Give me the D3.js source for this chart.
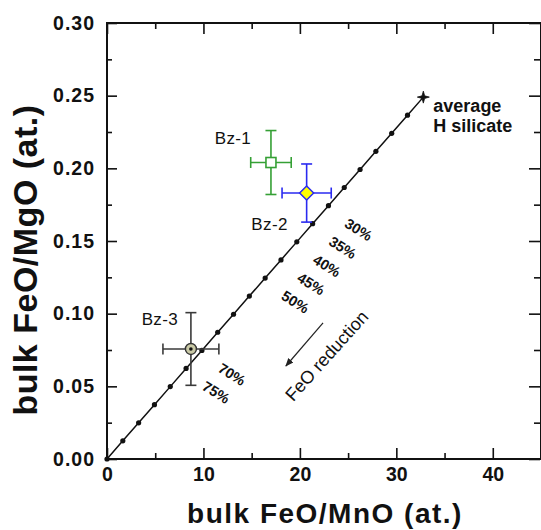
<!DOCTYPE html>
<html lang="en">
	<head>
		<meta charset="utf-8">
		<title>D3: bulk FeO/MnO vs FeO/MgO</title>
		<script src="https://d3js.org/d3.v7.min.js"></script>
		<style type="text/css">
			body { margin: 0; background: #fff; }
			svg text { font-family: "Liberation Sans", Arial, sans-serif; fill: #111; }
			.tick line { stroke: #111; stroke-width: 1.6; }
			.mixline { fill: none; stroke: #111; stroke-width: 1.5; }
		</style>
	</head>
	<body>
		<script type="text/javascript">

			//Width and height
			var w = 541;
			var h = 530;

			//Mixing line points (5% FeO reduction steps), 0 = average H silicate
			var lineX = [32.80, 31.16, 29.52, 27.88, 26.24, 24.60, 22.96, 21.32, 19.68, 18.04, 16.40,
			             14.76, 13.12, 11.48, 9.84, 8.20, 6.56, 4.92, 3.28, 1.64, 0];
			var lineY = [0.2490, 0.2366, 0.2241, 0.2117, 0.1992, 0.1868, 0.1743, 0.1619, 0.1494, 0.1370, 0.1245,
			             0.1121, 0.0996, 0.0872, 0.0747, 0.0623, 0.0498, 0.0374, 0.0249, 0.0125, 0];

			//Reduction labels and the step they sit at
			var pctLabels = ["30%", "35%", "40%", "45%", "50%", "70%", "75%"];
			var pctIndex = [6, 7, 8, 9, 10, 14, 15];

			//Samples
			var sampleNames = ["Bz-1", "Bz-2", "Bz-3"];
			var sampleX = [17.0, 20.7, 8.7];
			var sampleY = [0.204, 0.183, 0.0757];
			var sampleXErr = [2.1, 2.55, 2.9];
			var sampleYErr = [0.022, 0.020, 0.025];

			//Ticks
			var xMajor = [0, 10, 20, 30, 40];
			var xMinor = [5, 15, 25, 35];
			var yMajor = [0, 0.05, 0.10, 0.15, 0.20, 0.25, 0.30];
			var yMinor = [0.025, 0.075, 0.125, 0.175, 0.225, 0.275];

			//Styling for each sample
			var sampleStyle = [
				{ color: "#35a035", labelDx: -38, labelDy: -24 },
				{ color: "#2a2af0", labelDx: -37, labelDy: 31 },
				{ color: "#3a3a3a", labelDx: -31, labelDy: -29 }
			];

			var padL = 107, padR = 541, padT = 23, padB = 459;

			var xScale = d3.scaleLinear().domain([0, 45]).range([padL, padR]);
			var yScale = d3.scaleLinear().domain([0, 0.30]).range([padB, padT]);

			var svg = d3.select("body")
						.append("svg")
						.attr("width", w)
						.attr("height", h);

			//Axes, ticks pointing inward
			function drawAxis(axis, tx, ty, withLabels, cls) {
				var g = svg.append("g")
					.attr("class", cls)
					.attr("transform", "translate(" + tx + "," + ty + ")")
					.call(axis);
				g.select(".domain").remove();
				if (!withLabels) g.selectAll("text").remove();
				return g;
			}

			var fmtY = d3.format(".2f");

			var yAxisG = drawAxis(d3.axisLeft(yScale).tickValues(yMajor).tickSize(-10).tickPadding(12).tickFormat(fmtY), padL, 0, true, "axis y");
			yAxisG.selectAll("text")
				.style("font-size", "19.5px")
				.style("font-weight", "bold")
				.style("letter-spacing", "1px")
				.attr("fill", "#111");
			drawAxis(d3.axisLeft(yScale).tickValues(yMinor).tickSize(-5), padL, 0, false, "axis");
			drawAxis(d3.axisRight(yScale).tickValues(yMajor).tickSize(-11), padR - 1, 0, false, "axis");
			drawAxis(d3.axisRight(yScale).tickValues(yMinor).tickSize(-6), padR - 1, 0, false, "axis");

			var xAxisG = drawAxis(d3.axisBottom(xScale).tickValues(xMajor).tickSize(-11).tickPadding(8).tickFormat(d3.format("d")), 0, padB, true, "axis x");
			xAxisG.selectAll("text")
				.style("font-size", "19.5px")
				.style("font-weight", "bold")
				.attr("fill", "#111");
			drawAxis(d3.axisBottom(xScale).tickValues(xMinor).tickSize(-6), 0, padB, false, "axis");
			drawAxis(d3.axisTop(xScale).tickValues(xMajor).tickSize(-11), 0, padT, false, "axis");
			drawAxis(d3.axisTop(xScale).tickValues(xMinor).tickSize(-6), 0, padT, false, "axis");

			//Frame
			svg.append("rect")
				.attr("x", padL)
				.attr("y", padT)
				.attr("width", padR - padL)
				.attr("height", padB - padT)
				.attr("fill", "none")
				.attr("stroke", "#111")
				.attr("stroke-width", 2);

			//Axis titles
			svg.append("text")
				.attr("x", 325)
				.attr("y", 523)
				.attr("text-anchor", "middle")
				.style("font-size", "28px")
				.style("font-weight", "bold")
				.style("letter-spacing", "1.5px")
				.text("bulk FeO/MnO (at.)");

			svg.append("text")
				.attr("transform", "translate(37,260) rotate(-90)")
				.attr("text-anchor", "middle")
				.style("font-size", "34px")
				.style("font-weight", "bold")
				.style("letter-spacing", "0.5px")
				.text("bulk FeO/MgO (at.)");

			//Mixing line
			var pts = lineX.map(function(d, i) { return { x: d, y: lineY[i] }; });

			var line = d3.line()
						.x(function(d) { return xScale(d.x); })
						.y(function(d) { return yScale(d.y); });

			svg.append("path")
				.datum(pts)
				.attr("class", "mixline")
				.attr("d", line);

			svg.selectAll("circle.step")
				.data(pts.slice(1))
				.enter()
				.append("circle")
				.attr("class", "step")
				.attr("cx", function(d) { return xScale(d.x); })
				.attr("cy", function(d) { return yScale(d.y); })
				.attr("r", 2.6)
				.attr("fill", "#111");

			//End marker (average H silicate)
			svg.append("path")
				.attr("transform", "translate(" + xScale(lineX[0]) + "," + yScale(lineY[0]) + ")")
				.attr("d", "M0,-6L1.3,-1.3L6,0L1.3,1.3L0,6L-1.3,1.3L-6,0L-1.3,-1.3Z")
				.attr("fill", "#111")
				.attr("stroke", "#111")
				.attr("stroke-width", 0.8);

			svg.append("text")
				.attr("x", xScale(lineX[0]) + 10)
				.attr("y", yScale(lineY[0]) + 15)
				.style("font-size", "18px")
				.style("font-weight", "bold")
				.text("average");

			svg.append("text")
				.attr("x", xScale(lineX[0]) + 10)
				.attr("y", yScale(lineY[0]) + 35)
				.style("font-size", "18px")
				.style("font-weight", "bold")
				.text("H silicate");

			//Reduction % labels
			svg.selectAll("text.pct")
				.data(pctLabels)
				.enter()
				.append("text")
				.attr("class", "pct")
				.attr("transform", function(d, i) {
					var k = pctIndex[i];
					return "translate(" + (xScale(lineX[k]) + 30) + "," + (yScale(lineY[k]) + 24) + ") rotate(32)";
				})
				.attr("text-anchor", "middle")
				.attr("dominant-baseline", "central")
				.style("font-size", "14.5px")
				.style("font-weight", "bold")
				.text(function(d) { return d; });

			//FeO reduction arrow
			svg.append("defs")
				.append("marker")
				.attr("id", "arrowhead")
				.attr("viewBox", "0 0 10 10")
				.attr("refX", 9)
				.attr("refY", 5)
				.attr("markerWidth", 7)
				.attr("markerHeight", 7)
				.attr("orient", "auto")
				.append("path")
				.attr("d", "M0,1L10,5L0,9Z")
				.attr("fill", "#222");

			svg.append("line")
				.attr("x1", xScale(22.4))
				.attr("y1", yScale(0.0936))
				.attr("x2", xScale(18.55))
				.attr("y2", yScale(0.064))
				.attr("stroke", "#222")
				.attr("stroke-width", 1.2)
				.attr("marker-end", "url(#arrowhead)");

			svg.append("text")
				.attr("transform", "translate(" + xScale(22.8) + "," + yScale(0.071) + ") rotate(-48)")
				.attr("text-anchor", "middle")
				.attr("dominant-baseline", "central")
				.style("font-size", "18px")
				.text("FeO reduction");

			//Error bars
			var cap = 5.5;
			sampleNames.forEach(function(name, i) {
				var col = sampleStyle[i].color;
				var cx = xScale(sampleX[i]), cy = yScale(sampleY[i]);
				var x0 = xScale(sampleX[i] - sampleXErr[i]), x1 = xScale(sampleX[i] + sampleXErr[i]);
				var y0 = yScale(sampleY[i] - sampleYErr[i]), y1 = yScale(sampleY[i] + sampleYErr[i]);
				var g = svg.append("g")
					.attr("stroke", col)
					.attr("stroke-width", 1.6)
					.attr("fill", "none");
				g.append("line").attr("x1", x0).attr("x2", x1).attr("y1", cy).attr("y2", cy);
				g.append("line").attr("x1", cx).attr("x2", cx).attr("y1", y0).attr("y2", y1);
				g.append("line").attr("x1", x0).attr("x2", x0).attr("y1", cy - cap).attr("y2", cy + cap);
				g.append("line").attr("x1", x1).attr("x2", x1).attr("y1", cy - cap).attr("y2", cy + cap);
				g.append("line").attr("x1", cx - cap).attr("x2", cx + cap).attr("y1", y0).attr("y2", y0);
				g.append("line").attr("x1", cx - cap).attr("x2", cx + cap).attr("y1", y1).attr("y2", y1);

				svg.append("text")
					.attr("x", cx + sampleStyle[i].labelDx)
					.attr("y", cy + sampleStyle[i].labelDy)
					.attr("text-anchor", "middle")
					.attr("dominant-baseline", "central")
					.style("font-size", "17px")
					.style("letter-spacing", "0.4px")
					.attr("fill", "#222")
					.text(name);
			});

			//Markers
			svg.append("rect")
				.attr("x", xScale(sampleX[0]) - 5)
				.attr("y", yScale(sampleY[0]) - 5)
				.attr("width", 10)
				.attr("height", 10)
				.attr("fill", "#fff")
				.attr("stroke", sampleStyle[0].color)
				.attr("stroke-width", 1.6);

			svg.append("path")
				.attr("transform", "translate(" + xScale(sampleX[1]) + "," + yScale(sampleY[1]) + ")")
				.attr("d", "M0,-7L7,0L0,7L-7,0Z")
				.attr("fill", "#ffff00")
				.attr("stroke", sampleStyle[1].color)
				.attr("stroke-width", 1.5);

			svg.append("circle")
				.attr("cx", xScale(sampleX[2]))
				.attr("cy", yScale(sampleY[2]))
				.attr("r", 5.5)
				.attr("fill", "#c9c9a6")
				.attr("stroke", "#333")
				.attr("stroke-width", 1.4);

			svg.append("circle")
				.attr("cx", xScale(sampleX[2]))
				.attr("cy", yScale(sampleY[2]))
				.attr("r", 1.8)
				.attr("fill", "#111");

		</script>
	</body>
</html>
